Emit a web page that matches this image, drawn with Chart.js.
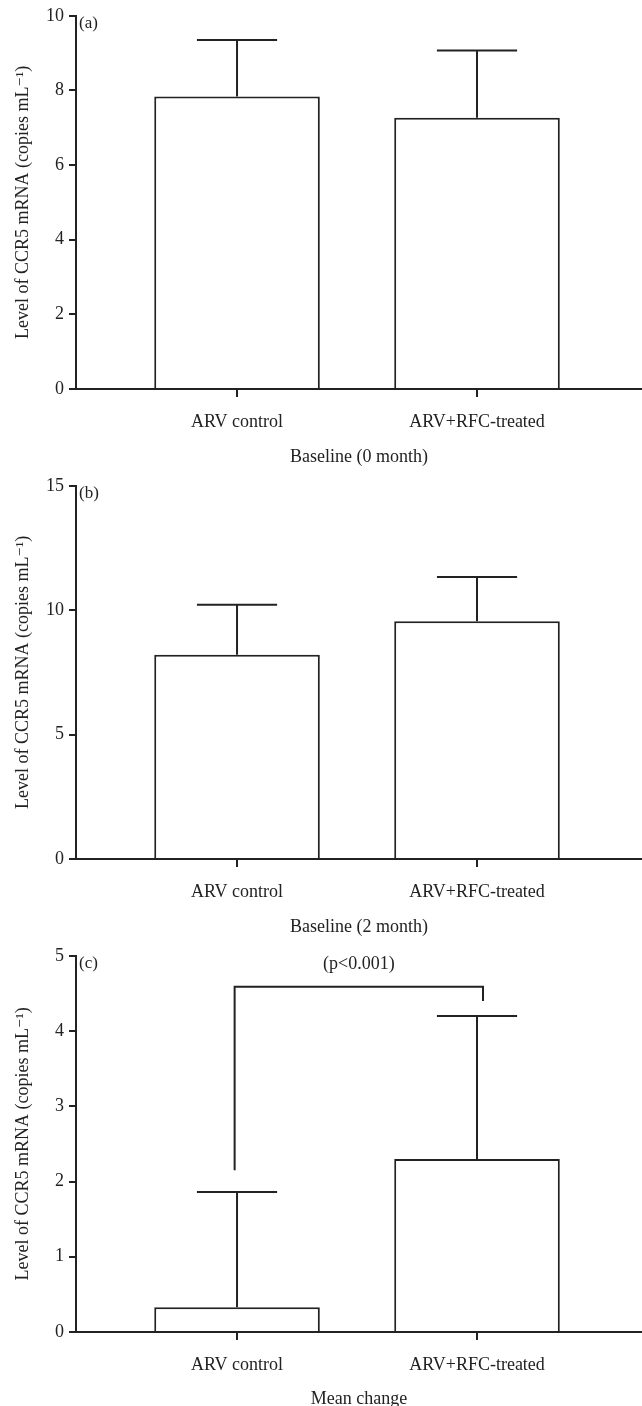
<!DOCTYPE html>
<html>
<head>
<meta charset="utf-8">
<script src="https://cdn.jsdelivr.net/npm/chart.js@4.4.0/dist/chart.umd.min.js"></script>
<style>
  html, body { margin: 0; padding: 0; background: #fff; }
  body { width: 642px; height: 1406px; position: relative; overflow: hidden; }
  .panel { position: absolute; left: 0; width: 642px; height: 470px; }
</style>
</head>
<body>
<div class="panel" style="top:0"><canvas id="chartA"></canvas></div>
<div class="panel" style="top:470px"><canvas id="chartB"></canvas></div>
<div class="panel" style="top:940px"><canvas id="chartC"></canvas></div>

<script>
// ---- data ----
const groups = ['ARV control', 'ARV+RFC-treated'];

const meanA = [7.84, 7.27];
const errTopA = [9.35, 9.07];
const meanB = [8.21, 9.56];
const errTopB = [10.22, 11.33];
const meanC = [0.33, 2.30];
const errTopC = [1.86, 4.20];

const yMaxList = [10, 15, 5];
const yStepList = [2, 5, 1];
const panelTags = ['(a)', '(b)', '(c)'];
const xTitles = ['Baseline (0 month)', 'Baseline (2 month)', 'Mean change'];

// significance bracket in panel (c): [top, left foot, right foot]
const bracketC = [4.59, 2.15, 4.40];
const bracketText = '(p<0.001)';

const yTitle = 'Level of CCR5 mRNA (copies mL\u207B\u00B9)';
const FONT = '"Liberation Serif", "DejaVu Serif", serif';
const INK = '#222';

// error bars (upper only) + panel tag + optional bracket
const extrasPlugin = {
  id: 'extras',
  afterDatasetsDraw(chart) {
    const ctx = chart.ctx;
    const x = chart.scales.x, y = chart.scales.y;
    const o = chart.options.plugins.extras;
    ctx.save();
    ctx.strokeStyle = INK;
    ctx.lineWidth = 2;
    o.means.forEach((m, i) => {
      const cx = x.getPixelForValue(i + 1);
      const half = x.getPixelForValue(i + 1 + 0.167) - cx;
      const y0 = y.getPixelForValue(m);
      const y1 = y.getPixelForValue(o.errTop[i]);
      ctx.beginPath();
      ctx.moveTo(cx, y0); ctx.lineTo(cx, y1);
      ctx.moveTo(cx - half, y1); ctx.lineTo(cx + half, y1);
      ctx.stroke();
    });
    if (o.bracket) {
      const [top, lFoot, rFoot] = o.bracket;
      const lx = x.getPixelForValue(0.99), rx = x.getPixelForValue(2.025);
      ctx.beginPath();
      ctx.moveTo(lx, y.getPixelForValue(lFoot));
      ctx.lineTo(lx, y.getPixelForValue(top));
      ctx.lineTo(rx, y.getPixelForValue(top));
      ctx.lineTo(rx, y.getPixelForValue(rFoot));
      ctx.stroke();
      ctx.fillStyle = INK;
      ctx.font = '18px ' + FONT;
      ctx.textAlign = 'center';
      ctx.textBaseline = 'middle';
      ctx.fillText(bracketText, (lx + rx) / 2, y.getPixelForValue(top) - 22);
    }
    ctx.fillStyle = INK;
    ctx.font = '17px ' + FONT;
    ctx.textAlign = 'left';
    ctx.textBaseline = 'top';
    ctx.fillText(o.tag, chart.chartArea.left + 3, chart.chartArea.top - 1);
    ctx.restore();
  }
};

function makePanel(id, means, errTop, k, bracket, axisH, titleGap) {
  new Chart(document.getElementById(id), {
    type: 'bar',
    data: {
      datasets: [{
        data: means.map((v, i) => ({ x: i + 1, y: v })),
        backgroundColor: '#fff',
        borderColor: INK,
        borderWidth: 2,
        categoryPercentage: 1,
        barPercentage: 0.69
      }]
    },
    options: {
      responsive: true,
      maintainAspectRatio: false,
      animation: false,
      layout: { padding: { top: 14, right: 0, left: 0, bottom: 0 } },
      plugins: {
        legend: { display: false },
        tooltip: { enabled: false },
        extras: { means: means, errTop: errTop, tag: panelTags[k], bracket: bracket }
      },
      scales: {
        x: {
          type: 'linear',
          offset: false,
          min: 0.329,
          max: 2.6875,
          afterBuildTicks: s => { s.ticks = groups.map((g, i) => ({ value: i + 1 })); },
          afterFit: s => { s.height = axisH; },
          grid: { offset: false, drawOnChartArea: false, tickLength: 8, color: INK, lineWidth: 2 },
          border: { color: INK, width: 2 },
          ticks: {
            callback: v => groups[v - 1],
            color: INK,
            padding: 14,
            maxRotation: 0,
            font: { family: FONT, size: 18 }
          },
          title: {
            display: true,
            text: xTitles[k],
            color: INK,
            padding: { top: 0, bottom: titleGap },
            font: { family: FONT, size: 18 }
          }
        },
        y: {
          min: 0,
          max: yMaxList[k],
          afterFit: s => { s.width = 76; },
          grid: { drawOnChartArea: false, tickLength: 7, color: INK, lineWidth: 2 },
          border: { color: INK, width: 2 },
          ticks: {
            stepSize: yStepList[k],
            color: INK,
            padding: 5,
            font: { family: FONT, size: 18 }
          },
          title: {
            display: true,
            text: yTitle,
            color: INK,
            padding: { top: 12, bottom: 0 },
            font: { family: FONT, size: 18 }
          }
        }
      }
    },
    plugins: [extrasPlugin]
  });
}

makePanel('chartA', meanA, errTopA, 0, null, 81, 2);
makePanel('chartB', meanB, errTopB, 1, null, 81, 2);
makePanel('chartC', meanC, errTopC, 2, bracketC, 78, 0);
</script>
</body>
</html>
